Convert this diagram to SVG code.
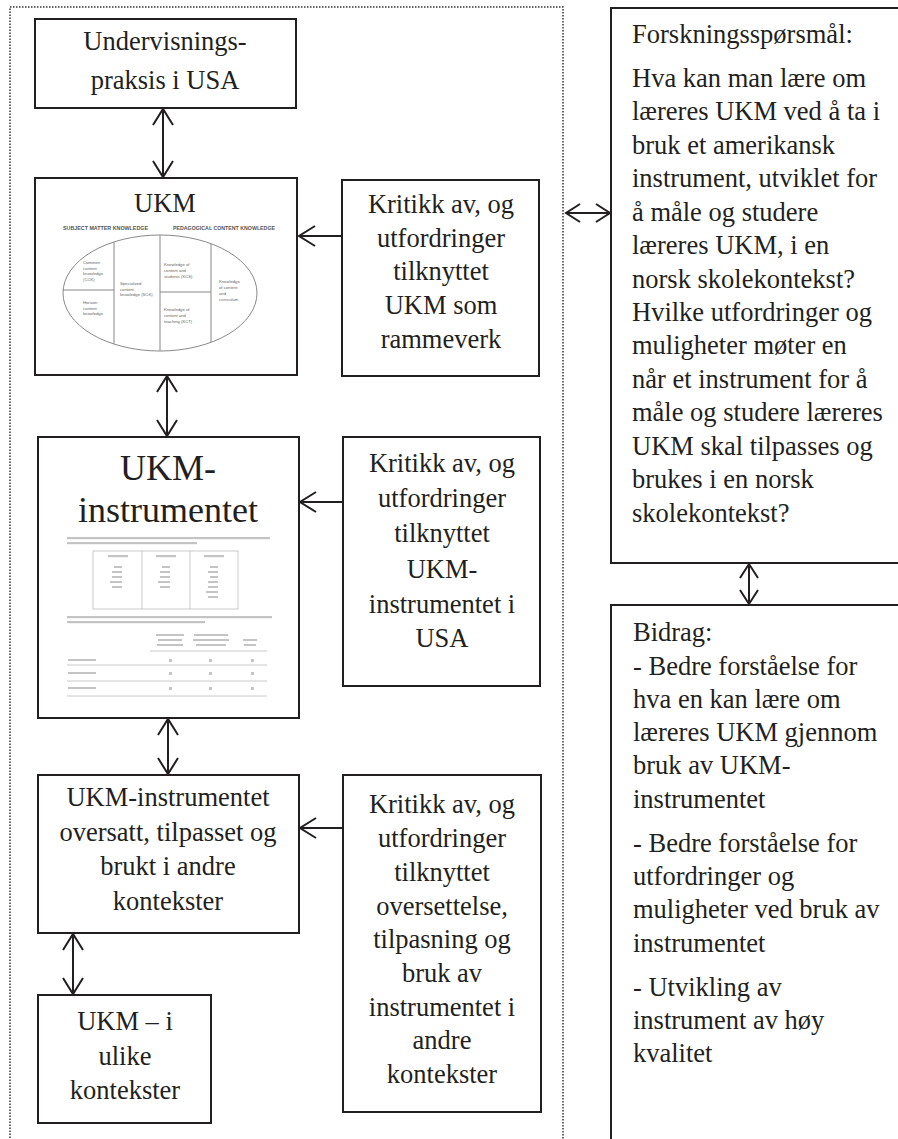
<svg xmlns="http://www.w3.org/2000/svg" width="898" height="1139" viewBox="0 0 898 1139">
<style>
.box{fill:#fff;stroke:#231f20;stroke-width:2}
.t{font-family:"Liberation Serif","Times New Roman",serif;font-size:26.5px;fill:#231f20}
.c{text-anchor:middle}
.big{font-size:36px}
.conn{stroke:#231f20;stroke-width:2;fill:none}
.fig{stroke:#888;stroke-width:1;fill:none}
.ft{font-family:"Liberation Sans",Arial,sans-serif;font-size:4.2px;fill:#666}
.fh{font-family:"Liberation Sans",Arial,sans-serif;font-size:4.6px;font-weight:bold;fill:#555}
.bar{fill:#c4c4c4}
.gl{stroke:#bdbdbd;stroke-width:0.8;fill:none}
</style>
<defs>
<marker id="ah" viewBox="0 0 20 22" refX="17" refY="11" markerWidth="20" markerHeight="22" markerUnits="userSpaceOnUse" orient="auto-start-reverse">
<path d="M1,1 L17,11 L1,21" fill="none" stroke="#231f20" stroke-width="2"/>
</marker>
<marker id="ahs" viewBox="0 0 18 20" refX="15" refY="10" markerWidth="18" markerHeight="20" markerUnits="userSpaceOnUse" orient="auto-start-reverse">
<path d="M1,1 L15,10 L1,19" fill="none" stroke="#231f20" stroke-width="2"/>
</marker>
</defs>
<rect width="898" height="1139" fill="#fff"/>
<rect x="10" y="7" width="553" height="1160" fill="none" stroke="#333" stroke-width="1.5" stroke-dasharray="1.5 1.5"/>

<g id="n-undervisning">
<rect class="box" x="35" y="19" width="261" height="89"/>
<text class="t c" x="165" y="50">Undervisnings-</text>
<text class="t c" x="165" y="89">praksis i USA</text>
</g>

<g id="n-ukm">
<rect class="box" x="35" y="178" width="262" height="197"/>
<text class="t c" x="165" y="212">UKM</text>
<text class="fh" x="63" y="229.5" textLength="85" lengthAdjust="spacingAndGlyphs">SUBJECT MATTER KNOWLEDGE</text>
<text class="fh" x="173" y="229.5" textLength="102" lengthAdjust="spacingAndGlyphs">PEDAGOGICAL CONTENT KNOWLEDGE</text>
<ellipse class="fig" cx="160" cy="293" rx="97" ry="58"/>
<line class="fig" x1="114" y1="242" x2="114" y2="344"/>
<line class="fig" x1="160" y1="235" x2="160" y2="351"/>
<line class="fig" x1="211" y1="244" x2="211" y2="342"/>
<line class="fig" x1="63" y1="290" x2="114" y2="290"/>
<line class="fig" x1="160" y1="292" x2="211" y2="292"/>
<text class="ft" x="83" y="264">Common</text>
<text class="ft" x="83" y="269.5">content</text>
<text class="ft" x="83" y="275">knowledge</text>
<text class="ft" x="83" y="280.5">(CCK)</text>
<text class="ft" x="83" y="304">Horizon</text>
<text class="ft" x="83" y="309.5">content</text>
<text class="ft" x="83" y="315">knowledge</text>
<text class="ft" x="120" y="285">Specialized</text>
<text class="ft" x="120" y="290.5">content</text>
<text class="ft" x="120" y="296">knowledge (SCK)</text>
<text class="ft" x="164" y="266">Knowledge of</text>
<text class="ft" x="164" y="272">content and</text>
<text class="ft" x="164" y="278">students (KCS)</text>
<text class="ft" x="164" y="311">Knowledge of</text>
<text class="ft" x="164" y="317">content and</text>
<text class="ft" x="164" y="323">teaching (KCT)</text>
<text class="ft" x="219" y="283">Knowledge</text>
<text class="ft" x="219" y="289">of content</text>
<text class="ft" x="219" y="295">and</text>
<text class="ft" x="219" y="301">curriculum</text>
</g>

<g id="n-instrument">
<rect class="box" x="38" y="437" width="261" height="281"/>
<text class="t c big" x="168" y="480">UKM-</text>
<text class="t c big" x="168" y="522">instrumentet</text>
<rect class="bar" x="67" y="537" width="203" height="2.2"/>
<rect class="bar" x="67" y="542" width="130" height="2.2"/>
<rect class="gl" x="93" y="551" width="145" height="58"/>
<line class="gl" x1="142" y1="551" x2="142" y2="609"/>
<line class="gl" x1="190" y1="551" x2="190" y2="609"/>
<rect class="bar" x="108" y="555" width="20" height="2.2"/>
<rect class="bar" x="156" y="555" width="20" height="2.2"/>
<rect class="bar" x="204" y="555" width="20" height="2.2"/>
<rect class="bar" x="114" y="566" width="8" height="2"/>
<rect class="bar" x="112" y="571" width="10" height="2"/>
<rect class="bar" x="112" y="576" width="10" height="2"/>
<rect class="bar" x="110" y="581" width="12" height="2"/>
<rect class="bar" x="112" y="586" width="10" height="2"/>
<rect class="bar" x="162" y="566" width="8" height="2"/>
<rect class="bar" x="160" y="571" width="10" height="2"/>
<rect class="bar" x="160" y="576" width="10" height="2"/>
<rect class="bar" x="158" y="581" width="12" height="2"/>
<rect class="bar" x="160" y="586" width="10" height="2"/>
<rect class="bar" x="210" y="566" width="8" height="2"/>
<rect class="bar" x="208" y="571" width="10" height="2"/>
<rect class="bar" x="210" y="576" width="8" height="2"/>
<rect class="bar" x="208" y="581" width="10" height="2"/>
<rect class="bar" x="208" y="586" width="10" height="2"/>
<rect class="bar" x="206" y="591" width="12" height="2"/>
<rect class="bar" x="208" y="596" width="10" height="2"/>
<rect class="bar" x="67" y="616" width="205" height="2.2"/>
<rect class="bar" x="67" y="621" width="138" height="2.2"/>
<rect class="bar" x="156" y="634" width="28" height="2"/>
<rect class="bar" x="158" y="639" width="24" height="2"/>
<rect class="bar" x="157" y="644" width="26" height="2"/>
<rect class="bar" x="194" y="634" width="34" height="2"/>
<rect class="bar" x="193" y="639" width="36" height="2"/>
<rect class="bar" x="196" y="644" width="30" height="2"/>
<rect class="bar" x="243" y="639" width="14" height="2"/>
<rect class="bar" x="244" y="644" width="12" height="2"/>
<line class="gl" x1="150" y1="651" x2="267" y2="651"/>
<rect class="bar" x="68" y="659" width="28" height="2"/>
<rect class="bar" x="169" y="659" width="3" height="3"/>
<rect class="bar" x="209" y="659" width="3" height="3"/>
<rect class="bar" x="251" y="659" width="3" height="3"/>
<line class="gl" x1="67" y1="665" x2="267" y2="665"/>
<rect class="bar" x="68" y="672" width="28" height="2"/>
<rect class="bar" x="169" y="672" width="3" height="3"/>
<rect class="bar" x="209" y="672" width="3" height="3"/>
<rect class="bar" x="251" y="672" width="3" height="3"/>
<line class="gl" x1="67" y1="681" x2="267" y2="681"/>
<rect class="bar" x="68" y="687" width="28" height="2"/>
<rect class="bar" x="169" y="687" width="3" height="3"/>
<rect class="bar" x="209" y="687" width="3" height="3"/>
<rect class="bar" x="251" y="687" width="3" height="3"/>
<line class="gl" x1="67" y1="696" x2="267" y2="696"/>
</g>

<g id="n-oversatt">
<rect class="box" x="38" y="775" width="261" height="158"/>
<text class="t c" x="168" y="806">UKM-instrumentet</text>
<text class="t c" x="168" y="841">oversatt, tilpasset og</text>
<text class="t c" x="168" y="875">brukt i andre</text>
<text class="t c" x="168" y="910">kontekster</text>
</g>

<g id="n-ulike">
<rect class="box" x="38" y="995" width="173" height="128"/>
<text class="t c" x="125" y="1030">UKM – i</text>
<text class="t c" x="125" y="1065">ulike</text>
<text class="t c" x="125" y="1099">kontekster</text>
</g>

<g id="n-kritikk1">
<rect class="box" x="342" y="180" width="197" height="196"/>
<text class="t c" x="441" y="213">Kritikk av, og</text>
<text class="t c" x="441" y="247">utfordringer</text>
<text class="t c" x="441" y="280">tilknyttet</text>
<text class="t c" x="441" y="314">UKM som</text>
<text class="t c" x="441" y="348">rammeverk</text>
</g>

<g id="n-kritikk2">
<rect class="box" x="343" y="437" width="197" height="249"/>
<text class="t c" x="442" y="472">Kritikk av, og</text>
<text class="t c" x="442" y="507">utfordringer</text>
<text class="t c" x="442" y="542">tilknyttet</text>
<text class="t c" x="442" y="578">UKM-</text>
<text class="t c" x="442" y="613">instrumentet i</text>
<text class="t c" x="442" y="647">USA</text>
</g>

<g id="n-kritikk3">
<rect class="box" x="343" y="775" width="198" height="337"/>
<text class="t c" x="442" y="813">Kritikk av, og</text>
<text class="t c" x="442" y="847">utfordringer</text>
<text class="t c" x="442" y="881">tilknyttet</text>
<text class="t c" x="442" y="915">oversettelse,</text>
<text class="t c" x="442" y="948">tilpasning og</text>
<text class="t c" x="442" y="982">bruk av</text>
<text class="t c" x="442" y="1016">instrumentet i</text>
<text class="t c" x="442" y="1049">andre</text>
<text class="t c" x="442" y="1083">kontekster</text>
</g>

<g id="n-forskning">
<rect class="box" x="611" y="8" width="400" height="555"/>
<text class="t" x="632" y="43">Forskningsspørsmål:</text>
<text class="t" x="632" y="87">Hva kan man lære om</text>
<text class="t" x="632" y="120">læreres UKM ved å ta i</text>
<text class="t" x="632" y="154">bruk et amerikansk</text>
<text class="t" x="632" y="187">instrument, utviklet for</text>
<text class="t" x="632" y="221">å måle og studere</text>
<text class="t" x="632" y="254">læreres UKM, i en</text>
<text class="t" x="632" y="288">norsk skolekontekst?</text>
<text class="t" x="632" y="321">Hvilke utfordringer og</text>
<text class="t" x="632" y="354">muligheter møter en</text>
<text class="t" x="632" y="388">når et instrument for å</text>
<text class="t" x="632" y="421">måle og studere læreres</text>
<text class="t" x="632" y="455">UKM skal tilpasses og</text>
<text class="t" x="632" y="488">brukes i en norsk</text>
<text class="t" x="632" y="522">skolekontekst?</text>
</g>

<g id="n-bidrag">
<rect class="box" x="611" y="605" width="400" height="600"/>
<text class="t" x="633" y="641">Bidrag:</text>
<text class="t" x="633" y="675">- Bedre forståelse for</text>
<text class="t" x="633" y="708">hva en kan lære om</text>
<text class="t" x="633" y="741">læreres UKM gjennom</text>
<text class="t" x="633" y="774">bruk av UKM-</text>
<text class="t" x="633" y="808">instrumentet</text>
<text class="t" x="633" y="852">- Bedre forståelse for</text>
<text class="t" x="633" y="885">utfordringer og</text>
<text class="t" x="633" y="918">muligheter ved bruk av</text>
<text class="t" x="633" y="952">instrumentet</text>
<text class="t" x="633" y="996">- Utvikling av</text>
<text class="t" x="633" y="1029">instrument av høy</text>
<text class="t" x="633" y="1062">kvalitet</text>
</g>

<g id="connectors">
<line class="conn" x1="163" y1="109" x2="163" y2="177" marker-start="url(#ah)" marker-end="url(#ah)"/>
<line class="conn" x1="167" y1="376" x2="167" y2="436" marker-start="url(#ah)" marker-end="url(#ah)"/>
<line class="conn" x1="168" y1="719" x2="168" y2="774" marker-start="url(#ah)" marker-end="url(#ah)"/>
<line class="conn" x1="73" y1="934" x2="73" y2="994" marker-start="url(#ah)" marker-end="url(#ah)"/>
<line class="conn" x1="341" y1="236" x2="299" y2="236" marker-end="url(#ah)"/>
<line class="conn" x1="342" y1="502" x2="300" y2="502" marker-end="url(#ah)"/>
<line class="conn" x1="342" y1="828" x2="300" y2="828" marker-end="url(#ah)"/>
<line class="conn" x1="566" y1="213" x2="610" y2="213" marker-start="url(#ahs)" marker-end="url(#ahs)"/>
<line class="conn" x1="749" y1="564" x2="749" y2="604" marker-start="url(#ahs)" marker-end="url(#ahs)"/>
</g>
</svg>
